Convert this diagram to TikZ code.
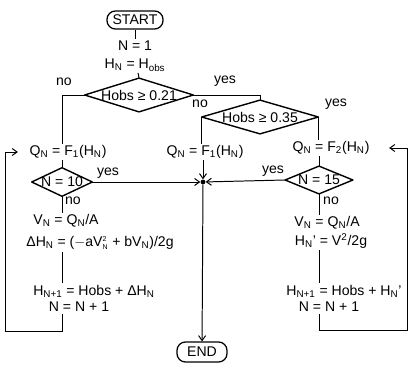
\documentclass[tikz,border=0pt]{standalone}
\usepackage{fontspec}
\setmainfont{Liberation Sans}
\usetikzlibrary{arrows.meta, calc}
\newcommand{\lo}[1]{\textsubscript{#1}}

\begin{document}
\begin{tikzpicture}[
    x=0.025cm, y=-0.025cm,
    terminal/.style={
        draw, line width=0.9pt, rounded corners=6pt,
        minimum width=1.4cm, minimum height=0.45cm, inner sep=1pt
    },
    stepbox/.style={align=center, inner sep=1pt},
    decision/.style={inner sep=0pt},
    shapeline/.style={line width=1pt, line join=round},
    flow/.style={line width=0.7pt},
    arrow/.style={-{Straight Barb[length=3.5pt, width=5pt]}, line width=0.7pt},
    answer/.style={inner sep=1pt}
]
\useasboundingbox (0,0) rectangle (408,373);

% TOP
\node[terminal] (start) at (135,20) {START};
\node[stepbox] (init) at (135,56) {N = 1\\[1pt] H\lo{N} = H\lo{obs}};
\node[decision, minimum width=2.7cm, minimum height=0.83cm] (d1) at (139,95) {Hobs ≥ 0.21};
\node[decision, minimum width=2.9cm, minimum height=0.83cm] (d2) at (260,117) {Hobs ≥ 0.35};

% LEFT BRANCH
\node[stepbox] (qfA) at (68,152) {Q\lo{N} = F\lo{1}(H\lo{N})};
\node[decision, minimum width=1.5cm, minimum height=0.7cm] (d10) at (62,182) {N = 10};
\node[stepbox] (vA) at (66,221) {V\lo{N} = Q\lo{N}/A};
\node[stepbox] (dhA) at (100,243) {ΔH\lo{N} = ($-$aV$^{\hbox{\tiny 2}}_{\hbox{\tiny N}}$ + bV\lo{N})/2g};
\node[stepbox] (hnA) at (94,291) {H\lo{N+1} = Hobs + ΔH\lo{N}};
\node[stepbox] (nnA) at (79,307) {N = N + 1};

% MIDDLE BRANCH
\node[stepbox] (qfB) at (205,152) {Q\lo{N} = F\lo{1}(H\lo{N})};
\node[circle, fill, inner sep=1.2pt] (join) at (203,182) {};
\node[terminal, minimum width=1.25cm, minimum height=0.5cm] (end) at (202,352) {END};

% RIGHT BRANCH
\node[stepbox] (qfC) at (331,148) {Q\lo{N} = F\lo{2}(H\lo{N})};
\node[decision, minimum width=1.68cm, minimum height=0.68cm] (d15) at (319,180) {N = 15};
\node[stepbox] (vC) at (327,223) {V\lo{N} = Q\lo{N}/A};
\node[stepbox] (hC) at (331,241) {H\lo{N}' = V\textsuperscript{2}/2g};
\node[stepbox] (hnC) at (344,291) {H\lo{N+1} = Hobs + H\lo{N}'};
\node[stepbox] (nnC) at (329,307) {N = N + 1};

% DIAMOND OUTLINES
\foreach \d in {d1, d2, d10, d15}
    \draw[shapeline] (\d.west) -- (\d.north) -- (\d.east) -- (\d.south) -- cycle;

% LOOP CORNERS
\coordinate (loopL) at (5,331);
\coordinate (loopR) at (407,330);

% CONNECTORS: TOP
\draw[flow] (start) -- (init);
\draw[flow] (init) -- (d1.north);
\draw[flow] (d1.west) -| (d10.north |- qfA.north);
\draw[flow] (d1.east) -| (d2.north);
\draw[flow] (d2.west) -- (d2.west |- qfB.north);
\draw[flow] (d2.east) -- (d2.east |- qfC.north);

% CONNECTORS: LEFT
\draw[flow] (d10.north |- qfA.south) -- (d10.north);
\draw[arrow] (d10.east) -- (join);
\draw[flow] (d10.south) -- (d10.south |- vA.north);
\draw[flow] (d10.south |- dhA.south) -- (d10.south |- hnA.north);
\draw[arrow] (d10.south |- nnA.south) |- (loopL) |- ($(qfA.west)+(-10,0)$);

% CONNECTORS: MIDDLE
\draw[arrow] (join |- qfB.south) -- (join);
\draw[arrow] (d15.west) -- (join);
\draw[arrow] (join) -- (end);

% CONNECTORS: RIGHT
\draw[flow] (d15.north |- qfC.south) -- (d15.north);
\draw[flow] (d15.south) -- (d15.south |- vC.north);
\draw[flow] (d15.south |- hC.south) -- (d15.south |- hnC.north);
\draw[arrow] (d15.south |- nnC.south) |- (loopR) |- ($(qfC.east)+(18,0)$);

% LABELS
\node[answer] (noA) at (64,82) {no};
\node[answer] (yesA) at (225,81) {yes};
\node[answer] (noB) at (200,104) {no};
\node[answer] (yesB) at (336,104) {yes};
\node[answer] (yesC) at (108,173) {yes};
\node[answer] (noC) at (73,201) {no};
\node[answer] (yesD) at (273,171) {yes};
\node[answer] (noD) at (331,201) {no};

\end{tikzpicture}
\end{document}
